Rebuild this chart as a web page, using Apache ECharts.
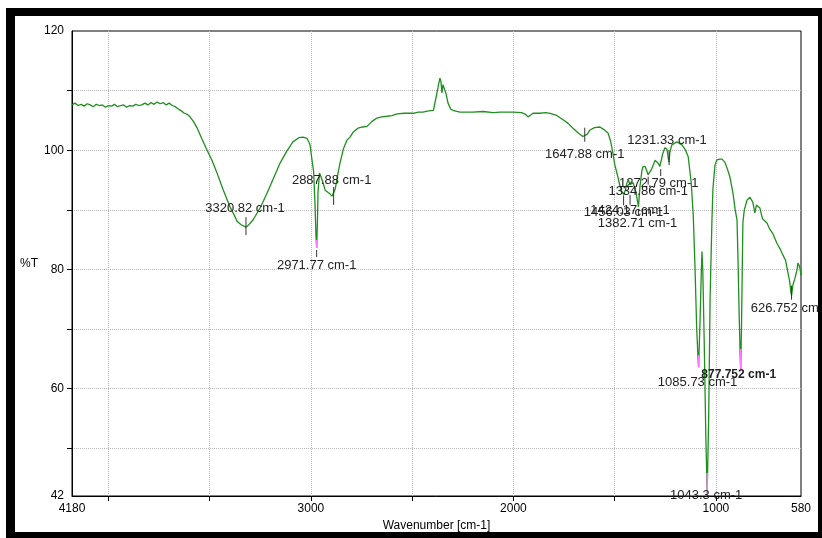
<!DOCTYPE html>
<html>
<head>
<meta charset="utf-8">
<script src="https://cdn.jsdelivr.net/npm/echarts@6/dist/echarts.min.js"></script>
<style>
html, body { margin: 0; padding: 0; background: #fff; }
#chart { width: 822px; height: 538px; }
</style>
</head>
<body>
<div id="chart"></div>
<script>
// FTIR spectrum: [wavenumber cm-1, %T]
const spectrum = [
  [4180,107.6],[4165,107.9],[4150,107.5],[4135,107.7],[4120,107.4],[4105,107.8],[4090,107.6],[4075,107.3],[4060,107.7],[4045,107.5],
  [4030,107.6],[4015,107.2],[4000,107.5],[3985,107.4],[3970,107.7],[3955,107.3],[3940,107.5],[3925,107.6],[3910,107.2],[3895,107.5],
  [3880,107.4],[3865,107.7],[3850,107.5],[3835,107.6],[3820,107.9],[3805,107.6],[3790,108.0],[3775,107.7],[3760,108.1],[3745,107.8],
  [3730,108.0],[3715,107.6],[3700,107.9],[3685,107.5],[3670,107.3],[3655,106.9],[3640,106.6],[3625,106.2],[3610,106.0],[3597,105.6],
  [3580,104.8],[3563,103.8],[3540,102.0],[3513,100.0],[3490,98.4],[3464,96.2],[3434,93.4],[3400,90.5],[3380,89.2],[3365,88.1],
  [3345,87.5],[3320.82,87.1],[3310,87.4],[3286,88.3],[3250,90.4],[3217,92.8],[3185,95.3],[3153,97.8],[3120,99.8],[3089,101.4],
  [3060,102.1],[3039,102.2],[3020,102.0],[3005,101.0],[2995,98.4],[2987,96.5],[2980,91.0],[2975,85.5],[2971.77,83.6],[2968,88.0],
  [2965,93.0],[2958,96.2],[2950,95.5],[2940,94.5],[2930,93.3],[2921,93.6],[2910,92.8],[2896,92.3],[2887.88,92.0],[2880,93.5],
  [2870,95.5],[2857,97.8],[2840,100.2],[2822,101.7],[2807,102.2],[2792,103.0],[2768,103.7],[2745,103.9],[2723,104.0],[2700,104.8],
  [2674,105.4],[2650,105.6],[2624,105.7],[2600,105.8],[2575,106.1],[2540,106.2],[2496,106.2],[2470,106.4],[2447,106.4],[2420,106.6],
  [2395,106.7],[2387,106.8],[2378,109.6],[2370,111.0],[2363,112.1],[2358,111.5],[2353,109.6],[2348,111.0],[2343,111.3],[2333,109.5],
  [2323,107.9],[2310,106.9],[2299,106.7],[2280,106.5],[2264,106.4],[2200,106.4],[2150,106.5],[2100,106.3],[2066,106.4],[2030,106.4],
  [2002,106.4],[1960,106.3],[1940,106.0],[1928,105.6],[1915,105.9],[1903,106.2],[1870,106.2],[1840,106.3],[1819,106.2],[1790,105.9],
  [1755,105.1],[1730,104.5],[1706,103.7],[1680,102.9],[1657,102.3],[1647.88,102.1],[1635,102.7],[1622,103.4],[1600,103.8],[1573,103.9],
  [1555,103.5],[1533,102.9],[1520,101.5],[1509,99.5],[1499,97.5],[1484,95.5],[1474,94.0],[1464,93.0],[1456.03,92.6],[1448,93.2],
  [1440,94.5],[1432,95.0],[1424.17,94.2],[1410,94.6],[1395,93.0],[1382.71,90.5],[1375,94.0],[1366,96.5],[1361,97.2],[1350,97.3],
  [1341,97.0],[1334.86,95.9],[1326,95.8],[1318,96.8],[1311,97.4],[1301,98.3],[1287,97.9],[1277,97.3],[1272.79,97.0],[1262,99.5],
  [1252,100.4],[1242,100.2],[1235,98.6],[1231.33,98.0],[1228,99.6],[1218,100.9],[1193,101.4],[1168,100.9],[1150,100.0],[1137,98.9],
  [1122,94.5],[1112,89.0],[1104,81.0],[1095,70.0],[1089,65.5],[1085.73,63.6],[1078,72.0],[1072,80.0],[1069,83.0],[1065,80.0],
  [1058,68.0],[1050,52.0],[1043.3,42.5],[1036,55.0],[1029,75.0],[1020,88.0],[1015,93.5],[1005,97.5],[995,98.4],[980,98.5],
  [970,98.5],[956,98.0],[945,97.0],[931,95.5],[916,92.8],[905,90.0],[896,88.3],[891,81.6],[885,72.0],[880,65.0],
  [877.752,63.3],[874,70.0],[867,87.8],[860,90.0],[847,91.6],[832,92.1],[818,91.3],[808,89.5],[800,90.8],[793,90.8],
  [783,90.3],[770,88.5],[748,87.8],[735,86.8],[719,86.0],[699,84.4],[684,83.5],[669,82.4],[656,81.5],[644,79.4],
  [636,78.0],[630,76.2],[626.752,75.6],[620,77.4],[610,78.5],[600,79.9],[595,81.1],[590,80.7],[585,80.2],[580,79.0]
];

// picked peaks
const peakWavenumbers = [3320.82, 2971.77, 2887.88, 1647.88, 1456.03, 1424.17, 1382.71, 1334.86, 1272.79, 1231.33, 1085.73, 1043.3, 877.752, 626.752];
const peakValues      = [87.1, 83.6, 92.0, 102.1, 92.6, 94.2, 90.5, 95.9, 97.0, 98.0, 63.6, 42.5, 63.3, 75.6];
const peakLabels = peakWavenumbers.map(w => w + ' cm-1');

// tick labels
const xLabelValues = [4180, 3000, 2000, 1000, 580];
const xTickValues = [4000, 3500, 3000, 2500, 2000, 1500, 1000];
const yLabelValues = [42, 60, 80, 100, 120];
const yTickValues = [50, 60, 70, 80, 90, 100, 110];

// label placement (px, relative to the peak point)
const labelDx   = [-1, 0, -2, 0, 0, 0, -1, 0, -2, -2, -1, -1, -2, -1];
const labelDy   = [-19, 17, -18, 17, 18, 26, 17, 17, 15, -22, 15, 2, 6, 13];
const tickFrom  = [-10, 2, -11, -10, 1, 10, 2, 2, 1, -12, 0, 0, 0, -10];
const tickTo    = [8, 9, 7, 4, 11, 20, 9, 10, 8, 3, 0, 0, 0, 4];
const pinkLen   = [0, 8, 0, 0, 0, 0, 0, 0, 0, 0, 12, 20, 20, 0];
const labelBold = [0, 0, 0, 0, 0, 0, 0, 0, 0, 0, 0, 0, 1, 0];

const chart = echarts.init(document.getElementById('chart'));
const axisFont = { color: '#000', fontSize: 12, fontFamily: 'Liberation Sans, Arial, sans-serif' };

chart.setOption({
  animation: false,
  backgroundColor: '#fff',
  grid: {
    left: 72, right: 21, top: 31, bottom: 42,
    show: true, borderColor: '#000', borderWidth: 1,
    outerBoundsMode: 'none'
  },
  xAxis: {
    type: 'value',
    inverse: true,
    min: 580,
    max: 4180,
    name: 'Wavenumber [cm-1]',
    nameLocation: 'middle',
    nameGap: 21,
    nameTextStyle: axisFont,
    axisLine: { lineStyle: { color: '#000' } },
    axisTick: { show: true, length: 5, customValues: xTickValues, lineStyle: { color: '#000' } },
    axisLabel: Object.assign({ customValues: xLabelValues, margin: 7, formatter: v => String(v) }, axisFont),
    splitLine: { show: true, lineStyle: { color: '#b8b8b8', type: 'dotted' } }
  },
  yAxis: {
    type: 'value',
    min: 42,
    max: 120,
    name: '%T',
    nameLocation: 'middle',
    nameRotate: 0,
    nameGap: 34,
    nameTextStyle: axisFont,
    axisLine: { lineStyle: { color: '#000' } },
    axisTick: { show: true, length: 5, customValues: yTickValues, lineStyle: { color: '#000' } },
    axisLabel: Object.assign({ customValues: yLabelValues, margin: 8, formatter: v => String(v) }, axisFont),
    splitLine: { show: true, lineStyle: { color: '#b8b8b8', type: 'dotted' } }
  },
  series: [
    {
      type: 'line',
      data: spectrum,
      showSymbol: false,
      lineStyle: { color: '#1f8f1f', width: 1.3 },
      z: 2
    },
    {
      type: 'custom',
      data: peakWavenumbers.map((w, i) => [w, peakValues[i], i]),
      encode: { x: 0, y: 1 },
      z: 3,
      renderItem: function (params, api) {
        const i = api.value(2);
        const p = api.coord([api.value(0), api.value(1)]);
        const children = [];
        if (pinkLen[i]) {
          children.push({
            type: 'line',
            shape: { x1: p[0], y1: p[1] - pinkLen[i], x2: p[0], y2: p[1] },
            style: { stroke: '#ff77ff', lineWidth: 1.5 }
          });
        }
        if (tickTo[i] !== tickFrom[i]) {
          children.push({
            type: 'line',
            shape: { x1: p[0], y1: p[1] + tickFrom[i], x2: p[0], y2: p[1] + tickTo[i] },
            style: { stroke: '#333', lineWidth: 1 }
          });
        }
        children.push({
          type: 'text',
          x: p[0] + labelDx[i],
          y: p[1] + labelDy[i],
          style: {
            text: peakLabels[i],
            fill: '#222',
            font: (labelBold[i] ? 'bold 12px' : '13px') + ' "Liberation Sans", Arial, sans-serif',
            align: 'center',
            verticalAlign: 'middle'
          }
        });
        return { type: 'group', children: children };
      }
    }
  ],
  graphic: [
    // thick black frame round the picture
    { type: 'rect', z: 100, shape: { x: 6, y: 8, width: 816, height: 8 }, style: { fill: '#000' } },
    { type: 'rect', z: 100, shape: { x: 6, y: 8, width: 9, height: 530 }, style: { fill: '#000' } },
    { type: 'rect', z: 100, shape: { x: 818, y: 8, width: 4, height: 530 }, style: { fill: '#000' } },
    { type: 'rect', z: 100, shape: { x: 6, y: 532, width: 816, height: 6 }, style: { fill: '#000' } }
  ]
});
</script>
</body>
</html>
